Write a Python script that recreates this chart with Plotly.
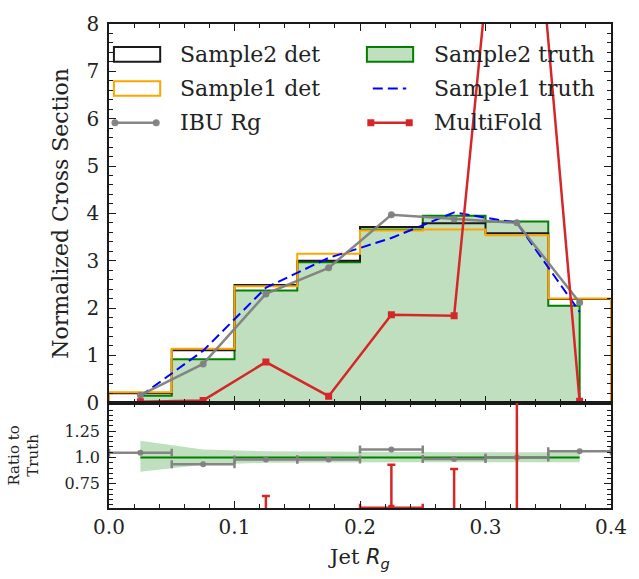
import plotly.graph_objects as go
from plotly.subplots import make_subplots

# ---------------- data ----------------
bin_edges = [0.0, 0.05, 0.10, 0.15, 0.20, 0.25, 0.30, 0.35, 0.40]
bin_centers = [0.025, 0.075, 0.125, 0.175, 0.225, 0.275, 0.325, 0.375]

sample2_det = [0.20, 1.11, 2.49, 3.00, 3.71, 3.79, 3.58, 2.19]
sample1_det = [0.22, 1.14, 2.46, 3.15, 3.64, 3.66, 3.54, 2.20]
sample2_truth = [0.15, 0.92, 2.37, 2.97, 3.66, 3.95, 3.83, 2.05]
sample1_truth = [0.14, 1.10, 2.43, 3.06, 3.48, 4.02, 3.80, 1.92]
ibu_rg = [0.16, 0.82, 2.30, 2.85, 3.97, 3.88, 3.80, 2.12]
multifold = [0.02, 0.05, 0.86, 0.14, 1.86, 1.84, 15.3, 0.03]

ibu_ratio = [1.045, 0.935, 0.98, 0.98, 1.075, 0.985, 1.0, 1.06]
multifold_ratio = [0.13, 0.05, 0.36, 0.05, 0.522, 0.47, 4.0, 0.02]
multifold_ratio_err = [0.05, 0.03, 0.275, 0.03, 0.41, 0.42, 3.6, 0.02]
band_upper = [1.16, 1.075, 1.06, 1.055, 1.05, 1.05, 1.05, 1.05]
band_lower = [0.865, 0.93, 0.95, 0.955, 0.955, 0.955, 0.955, 0.955]

main_yticks = [0, 1, 2, 3, 4, 5, 6, 7, 8]
ratio_yticks = [0.75, 1.0, 1.25]
ratio_yticklabels = ["0.75", "1.0", "1.25"]
x_ticks = [0.0, 0.1, 0.2, 0.3, 0.4]

# ---------------- styles ----------------
FONT = "DejaVu Serif"
TXT = "#222222"
GREEN = "#008000"
GREEN_FILL = "rgba(0,128,0,0.25)"
ORANGE = "#FFA500"
BLACK = "#1a1a1a"
BLUE = "#0000FF"
GRAY = "rgba(128,128,128,0.95)"
RED = "#d62728"

W, H = 639, 579
ML, MR, MT, MB = 108, 21, 13, 71

fig = make_subplots(rows=2, cols=1, shared_xaxes=True, vertical_spacing=0,
                    row_heights=[0.7826, 0.2174])

half_w = [(bin_edges[i + 1] - bin_edges[i]) / 2 for i in range(len(bin_centers))]

# Sample2 truth: filled mid-step
fig.add_trace(go.Scatter(
    x=[bin_centers[0]] + bin_centers + [bin_centers[-1]],
    y=[0] + sample2_truth + [0],
    mode="lines", line=dict(color=GREEN, width=2, shape="hvh"),
    fill="toself", fillcolor=GREEN_FILL, showlegend=False, hoverinfo="skip"),
    row=1, col=1)


def step_trace(vals, color):
    return go.Scatter(
        x=[bin_edges[0]] + bin_edges + [bin_edges[-1]],
        y=[0] + vals + [vals[-1], 0],
        mode="lines", line=dict(color=color, width=2, shape="hv"),
        showlegend=False, hoverinfo="skip")


fig.add_trace(step_trace(sample2_det, BLACK), row=1, col=1)
fig.add_trace(step_trace(sample1_det, ORANGE), row=1, col=1)

fig.add_trace(go.Scatter(x=bin_centers, y=sample1_truth, mode="lines",
                         line=dict(color=BLUE, width=2, dash="10px,5px"),
                         showlegend=False), row=1, col=1)
fig.add_trace(go.Scatter(x=bin_centers, y=ibu_rg, mode="lines+markers",
                         line=dict(color=GRAY, width=2.5),
                         marker=dict(color=GRAY, size=7, symbol="circle"),
                         showlegend=False), row=1, col=1)
fig.add_trace(go.Scatter(x=bin_centers, y=multifold, mode="lines+markers",
                         line=dict(color=RED, width=2.5),
                         marker=dict(color=RED, size=7, symbol="square"),
                         showlegend=False), row=1, col=1)

# ---------------- ratio panel ----------------
fig.add_trace(go.Scatter(x=bin_centers, y=band_lower, mode="lines",
                         line=dict(width=0, color=GREEN_FILL), showlegend=False,
                         hoverinfo="skip"), row=2, col=1)
fig.add_trace(go.Scatter(x=bin_centers, y=band_upper, mode="lines",
                         line=dict(width=0, color=GREEN_FILL), fill="tonexty",
                         fillcolor=GREEN_FILL, showlegend=False, hoverinfo="skip"),
              row=2, col=1)
fig.add_trace(go.Scatter(x=bin_centers, y=[t / t for t in sample2_truth], mode="lines",
                         line=dict(color=GREEN, width=2), showlegend=False),
              row=2, col=1)
fig.add_trace(go.Scatter(x=bin_centers, y=ibu_ratio, mode="markers",
                         marker=dict(color=GRAY, size=6),
                         error_x=dict(type="data", array=half_w, color=GRAY,
                                      thickness=2.5, width=4),
                         showlegend=False), row=2, col=1)
fig.add_trace(go.Scatter(x=bin_centers, y=multifold_ratio, mode="markers",
                         marker=dict(color=RED, size=6, symbol="square"),
                         error_x=dict(type="data", array=half_w, color=RED,
                                      thickness=2.5, width=4),
                         error_y=dict(type="data", array=multifold_ratio_err, color=RED,
                                      thickness=2.5, width=4),
                         showlegend=False), row=2, col=1)

# ---------------- axes ----------------
axis_common = dict(showline=True, linecolor=BLACK, linewidth=1.5, mirror="allticks",
                   ticks="inside", ticklen=7, tickwidth=1.3, tickcolor=BLACK,
                   showgrid=False, zeroline=False,
                   tickfont=dict(family=FONT, size=20, color=TXT))

fig.update_xaxes(**axis_common, range=[0, 0.4], tickvals=x_ticks,
                 minor=dict(ticks="inside", dtick=0.02, tick0=0, ticklen=4,
                            tickwidth=1, tickcolor=BLACK, showgrid=False))
fig.update_xaxes(showticklabels=False, row=1, col=1)
fig.update_xaxes(showticklabels=True, tickformat=".1f", row=2, col=1,
                 title=dict(text="Jet <span style=\"font-family:'DejaVu Sans'\"><i>R</i><sub><i>g</i></sub></span>",
                            font=dict(family=FONT, size=21, color=TXT), standoff=12))

fig.update_yaxes(**axis_common, row=1, col=1, range=[0, 8], tickvals=main_yticks,
                 ticklabelstandoff=4,
                 minor=dict(ticks="inside", dtick=0.2, tick0=0, ticklen=4,
                            tickwidth=1, tickcolor=BLACK, showgrid=False),
                 title=dict(text="Normalized Cross Section",
                            font=dict(family=FONT, size=22, color=TXT), standoff=12))
fig.update_yaxes(**axis_common, row=2, col=1, range=[0.52, 1.52],
                 tickvals=ratio_yticks, ticktext=ratio_yticklabels,
                 ticklabelstandoff=4,
                 minor=dict(ticks="inside", dtick=0.05, tick0=0, ticklen=4,
                            tickwidth=1, tickcolor=BLACK, showgrid=False),
                 title=dict(text="Ratio to<br>Truth",
                            font=dict(family=FONT, size=15, color=TXT), standoff=22))
fig.update_yaxes(tickfont=dict(family=FONT, size=16, color=TXT), row=2, col=1)

# ---------------- custom legend (matplotlib-like) ----------------
PW, PH = W - ML - MR, H - MT - MB


def px2x(px):
    return (px - ML) / PW


def px2y(py):
    return (H - MB - py) / PH


shapes = []
annotations = []
rows_y = [44, 79, 114]
col_sym = [(113, 160), (370, 417)]
col_txt = [178, 436]


def rect(c, r, line_color, fill):
    x0, x1 = col_sym[c]
    yc = rows_y[r]
    shapes.append(dict(type="rect", xref="paper", yref="paper",
                       x0=px2x(x0), x1=px2x(x1), y0=px2y(yc + 7.5), y1=px2y(yc - 7.5),
                       line=dict(color=line_color, width=2), fillcolor=fill))


def hline(c, r, color, x0, x1, dash="solid", width=2.5):
    yc = rows_y[r]
    shapes.append(dict(type="line", xref="paper", yref="paper",
                       x0=px2x(x0), x1=px2x(x1), y0=px2y(yc), y1=px2y(yc),
                       line=dict(color=color, width=width, dash=dash)))


def marker(px, py, color, kind, s=3.5):
    shapes.append(dict(type=kind, xref="paper", yref="paper",
                       xsizemode="pixel", ysizemode="pixel",
                       xanchor=px2x(px), yanchor=px2y(py),
                       x0=-s, x1=s, y0=-s, y1=s,
                       line=dict(color=color, width=0), fillcolor=color))


def label(c, r, text):
    annotations.append(dict(text=text, xref="paper", yref="paper",
                            x=px2x(col_txt[c]), y=px2y(rows_y[r]),
                            xanchor="left", yanchor="middle", showarrow=False,
                            font=dict(family=FONT, size=22, color=TXT)))


rect(0, 0, BLACK, "rgba(0,0,0,0)")
label(0, 0, "Sample2 det")
rect(0, 1, ORANGE, "rgba(0,0,0,0)")
label(0, 1, "Sample1 det")
hline(0, 2, GRAY, 114, 156)
marker(114, rows_y[2], GRAY, "circle")
marker(156, rows_y[2], GRAY, "circle")
label(0, 2, "IBU Rg")
rect(1, 0, GREEN, GREEN_FILL)
label(1, 0, "Sample2 truth")
hline(1, 1, BLUE, 376, 410, dash="10px,5px", width=2)
label(1, 1, "Sample1 truth")
hline(1, 2, RED, 374, 413)
marker(374, rows_y[2], RED, "rect")
marker(413, rows_y[2], RED, "rect")
label(1, 2, "MultiFold")

fig.update_layout(width=W, height=H, margin=dict(l=ML, r=MR, t=MT, b=MB),
                  paper_bgcolor="white", plot_bgcolor="white",
                  showlegend=False, shapes=shapes, annotations=annotations,
                  font=dict(family=FONT, color=TXT))

fig.write_html("out.html")
